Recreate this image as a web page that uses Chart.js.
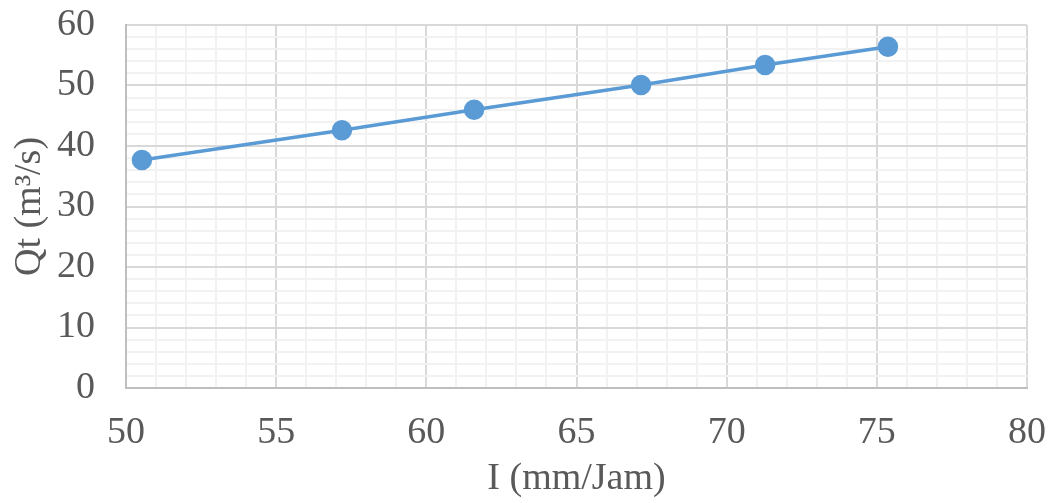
<!DOCTYPE html>
<html>
<head>
    <meta charset="UTF-8">
    <title>Qt vs I</title>
    <style>
        html, body { margin: 0; padding: 0; background: #fff; }
        #wrap { width: 1050px; height: 503px; }
    </style>
</head>
<body>
    <div id="wrap"><canvas id="myChart"></canvas></div>
    <script src="https://cdn.jsdelivr.net/npm/chart.js"></script>
    <script>
        // values
        const intensity = [50.53, 57.19, 61.59, 67.15, 71.28, 75.37];
        const discharge = [37.7, 42.6, 46.0, 50.1, 53.4, 56.4];
        const xLabels = [50, 55, 60, 65, 70, 75, 80];
        const yLabels = [0, 10, 20, 30, 40, 50, 60];

        const points = intensity.map((x, i) => ({ x: x, y: discharge[i] }));
        const font = { family: '"Liberation Serif", "Times New Roman", serif', size: 38, lineHeight: 1 };

        const ctx = document.getElementById('myChart').getContext('2d');
        const myChart = new Chart(ctx, {
            type: 'scatter',
            data: {
                datasets: [{
                    data: points,
                    showLine: true,
                    borderColor: '#5b9bd5',
                    backgroundColor: '#5b9bd5',
                    borderWidth: 3.5,
                    pointRadius: 8.5,
                    pointHoverRadius: 8.5
                }]
            },
            options: {
                responsive: true,
                maintainAspectRatio: false,
                animation: false,
                layout: { padding: { top: 6, right: 3, left: 11, bottom: 0 } },
                plugins: { legend: { display: false }, tooltip: { enabled: false } },
                scales: {
                    x: {
                        min: xLabels[0],
                        max: xLabels[xLabels.length - 1],
                        ticks: {
                            stepSize: 1,
                            autoSkip: false,
                            maxRotation: 0,
                            padding: 26,
                            color: '#595959',
                            font: font,
                            callback: v => xLabels.includes(v) ? v : ''
                        },
                        grid: {
                            drawTicks: false,
                            lineWidth: 2,
                            color: c => xLabels.includes(c.tick.value) ? '#d9d9d9' : '#f2f2f2'
                        },
                        border: { display: true, color: '#bfbfbf', width: 2 },
                        title: { display: true, text: 'I (mm/Jam)', color: '#595959', font: font, padding: { top: 8, bottom: 5 } },
                        // chart.js counts tick padding twice and adds it to the side padding too
                        afterFit: s => { s.height -= 26; s.paddingLeft = 19; s.paddingRight = 23; }
                    },
                    y: {
                        min: yLabels[0],
                        max: yLabels[yLabels.length - 1],
                        ticks: {
                            stepSize: 2,
                            autoSkip: false,
                            padding: 31,
                            color: '#595959',
                            font: font,
                            callback: v => yLabels.includes(v) ? v : ''
                        },
                        grid: {
                            drawTicks: false,
                            lineWidth: 2,
                            color: c => yLabels.includes(c.tick.value) ? '#d9d9d9' : '#f2f2f2'
                        },
                        border: { display: true, color: '#bfbfbf', width: 2 },
                        title: { display: true, text: 'Qt (m³/s)', color: '#595959', font: font, padding: { top: 0, bottom: 8 } },
                        afterFit: s => { s.width -= 31; s.paddingTop = 25; s.paddingBottom = 19; }
                    }
                }
            }
        });
    </script>
</body>
</html>
